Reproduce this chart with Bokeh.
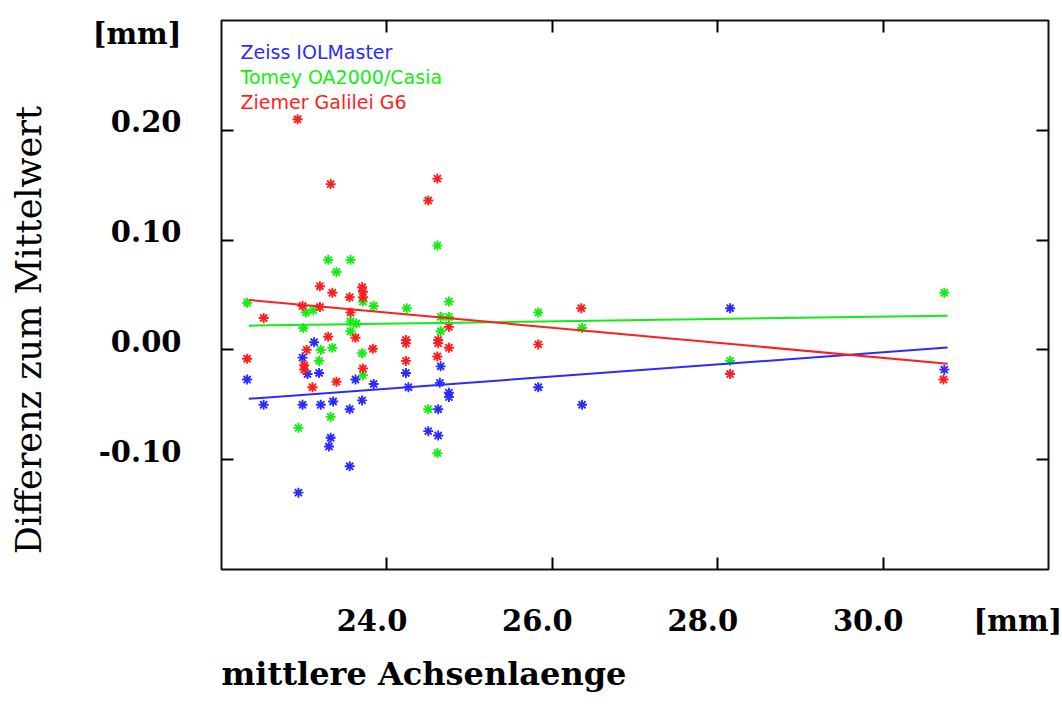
import math

from bokeh.embed import file_html
from bokeh.layouts import row
from bokeh.models import (FixedTicker, LinearAxis, Label, PrintfTickFormatter,
                          Range1d, Title)
from bokeh.plotting import figure
from bokeh.resources import INLINE

# Mean axial length [mm] and each device's difference to the mean [mm]
zeiss_x = [22.31, 22.51, 22.93, 22.98, 22.98, 23.04, 23.12, 23.18, 23.20, 23.30,
           23.32, 23.35, 23.55, 23.55, 23.62, 23.70, 23.84, 24.23, 24.26, 24.50,
           24.62, 24.62, 24.64, 24.65, 24.75, 24.75, 25.83, 26.36, 28.15, 30.74]
zeiss_y = [-0.027, -0.050, -0.130, -0.007, -0.050, -0.022, 0.007, -0.021, -0.050, -0.088,
           -0.080, -0.047, -0.054, -0.106, -0.027, -0.046, -0.031, -0.021, -0.034, -0.074,
           -0.054, -0.078, -0.030, -0.015, -0.039, -0.043, -0.034, -0.050, 0.038, -0.018]

tomey_x = [22.31, 22.93, 22.99, 23.02, 23.11, 23.18, 23.20, 23.29, 23.32, 23.34,
           23.39, 23.56, 23.56, 23.56, 23.63, 23.70, 23.71, 23.71, 23.84, 24.24,
           24.50, 24.61, 24.61, 24.65, 24.65, 24.75, 24.75, 25.83, 26.36, 28.15,
           30.74]
tomey_y = [0.043, -0.071, 0.020, 0.034, 0.036, -0.010, 0.000, 0.082, -0.061, 0.002,
           0.071, 0.082, 0.026, 0.017, 0.024, -0.003, 0.044, -0.023, 0.040, 0.038,
           -0.054, 0.095, -0.094, 0.030, 0.017, 0.044, 0.030, 0.034, 0.020, -0.010,
           0.052]

ziemer_x = [22.31, 22.51, 22.92, 22.98, 23.00, 23.00, 23.03, 23.10, 23.19, 23.19,
            23.29, 23.32, 23.34, 23.39, 23.55, 23.56, 23.62, 23.70, 23.71, 23.71,
            23.71, 23.83, 24.23, 24.23, 24.23, 24.50, 24.61, 24.62, 24.62, 24.61,
            24.75, 24.75, 25.83, 26.35, 28.15, 30.73]
ziemer_y = [-0.008, 0.029, 0.210, 0.040, -0.014, -0.018, 0.000, -0.034, 0.058, 0.039,
            0.012, 0.151, 0.052, -0.029, 0.048, 0.034, 0.011, 0.057, 0.053, 0.048,
            -0.017, 0.001, 0.009, 0.006, -0.010, 0.136, 0.156, 0.009, 0.006, -0.006,
            0.021, 0.002, 0.005, 0.038, -0.022, -0.027]

# Linear trend of each device over the measured range
fit_x = [22.33, 30.78]
zeiss_fit = [-0.0445, 0.0021]
tomey_fit = [0.0221, 0.0312]
ziemer_fit = [0.0455, -0.0127]

series_names = ["Zeiss IOLMaster", "Tomey OA2000/Casia", "Ziemer Galilei G6"]

x_ticks = [24, 26, 28, 30]
y_ticks = [-0.10, 0.00, 0.10, 0.20]
# unit labels are written as extra tick labels at the end of each scale
x_unit_pos = 31.81
y_unit_pos = 0.28
unit_text = "[mm]"
x_title = "mittlere Achsenlaenge"
y_title = "Differenz zum Mittelwert"

BLUE = "#2b2bff"
GREEN = "#12ee12"
RED = "#ff1e1e"
SERIF = "DejaVu Serif"

TOTAL_W, TOTAL_H = 1062, 704
TITLE_W = 60      # strip left of the plot holding the vertical title
MAIN_W = TOTAL_W - TITLE_W

p = figure(width=MAIN_W, height=TOTAL_H,
           x_range=Range1d(22, 32), y_range=Range1d(-0.2, 0.3),
           output_backend="svg", toolbar_location=None,
           min_border_left=221 - TITLE_W, min_border_right=14,
           min_border_top=20, min_border_bottom=134)
p.xgrid.visible = False
p.ygrid.visible = False
p.outline_line_color = "#111111"
p.outline_line_width = 2
p.background_fill_color = "white"
p.border_fill_color = "white"


def tick_only(axis):
    axis.axis_line_color = None
    axis.major_tick_in = 12
    axis.major_tick_out = 0
    axis.major_tick_line_width = 2
    axis.major_tick_line_color = "black"
    axis.minor_tick_line_color = None
    axis.major_label_text_color = None
    axis.major_label_text_font_size = "0px"
    axis.major_label_standoff = 0


def label_only(axis, standoff):
    axis.axis_line_color = None
    axis.major_tick_line_color = None
    axis.major_tick_in = 0
    axis.major_tick_out = 0
    axis.minor_tick_line_color = None
    axis.major_label_standoff = standoff
    axis.major_label_text_font = SERIF
    axis.major_label_text_font_style = "bold"
    axis.major_label_text_font_size = "29px"
    axis.major_label_text_color = "black"


# inward ticks on all four sides
p.xaxis.ticker = FixedTicker(ticks=x_ticks)
p.yaxis.ticker = FixedTicker(ticks=y_ticks)
tick_only(p.xaxis[0])
tick_only(p.yaxis[0])
top_axis = LinearAxis(ticker=FixedTicker(ticks=x_ticks))
right_axis = LinearAxis(ticker=FixedTicker(ticks=y_ticks))
tick_only(top_axis)
tick_only(right_axis)
p.add_layout(top_axis, "above")
p.add_layout(right_axis, "right")

# tick labels sit slightly left of / above their ticks
p.extra_x_ranges = {"xlab": Range1d(22 + 0.18, 32 + 0.18)}
p.extra_y_ranges = {"ylab": Range1d(-0.2 - 0.0073, 0.3 - 0.0073)}
x_labels = LinearAxis(x_range_name="xlab",
                      ticker=FixedTicker(ticks=x_ticks + [x_unit_pos]),
                      formatter=PrintfTickFormatter(format="%.1f"),
                      major_label_overrides={x_unit_pos: unit_text})
y_labels = LinearAxis(y_range_name="ylab",
                      ticker=FixedTicker(ticks=y_ticks + [y_unit_pos]),
                      formatter=PrintfTickFormatter(format="%.2f"),
                      major_label_overrides={y_unit_pos: unit_text})
label_only(x_labels, 34)
label_only(y_labels, 40)
p.add_layout(x_labels, "below")
p.add_layout(y_labels, "left")

# horizontal axis title, starting at the plot's left edge
p.add_layout(Title(text=x_title, align="left", offset=0, standoff=24,
                   text_font=SERIF, text_font_style="bold", text_font_size="32px",
                   text_color="black"), "below")

colors = [BLUE, GREEN, RED]
xs = [zeiss_x, tomey_x, ziemer_x]
ys = [zeiss_y, tomey_y, ziemer_y]
fits = [zeiss_fit, tomey_fit, ziemer_fit]

for sx, sy, c in zip(xs, ys, colors):
    p.scatter(sx, sy, marker="asterisk", size=10, line_color=c, line_width=1.9)
for f, c in zip(fits, colors):
    p.line(fit_x, f, line_color=c, line_width=2)

# legend as coloured text in the upper left corner
for i, (name, c) in enumerate(zip(series_names, colors)):
    p.add_layout(Label(x=22, y=0.3, x_offset=19, y_offset=-31 - 25 * i, text=name,
                       text_font="DejaVu Sans", text_font_size="19px",
                       text_color=c, text_baseline="alphabetic", text_align="left"))

# vertical axis title, reading upwards, in a narrow strip left of the plot
ytitle_fig = figure(width=TITLE_W, height=TOTAL_H,
                    x_range=Range1d(0, TITLE_W), y_range=Range1d(0, TOTAL_H),
                    output_backend="svg", toolbar_location=None,
                    x_axis_location=None, y_axis_location=None, min_border=0)
ytitle_fig.xgrid.visible = False
ytitle_fig.ygrid.visible = False
ytitle_fig.outline_line_color = None
ytitle_fig.background_fill_color = "white"
ytitle_fig.border_fill_color = "white"
ytitle_fig.add_layout(Label(x=28, y=307, angle=math.pi / 2, text=y_title,
                            text_font=SERIF, text_font_size="35px",
                            text_color="black", text_align="center",
                            text_baseline="middle"))

layout = row(ytitle_fig, p, spacing=0)

open("out.html", "w").write(file_html(layout, INLINE))
